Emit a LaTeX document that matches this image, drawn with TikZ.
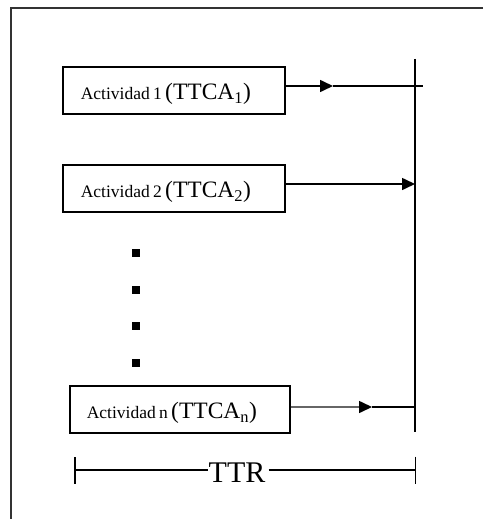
\documentclass[tikz,border=0pt]{standalone}
\usepackage{fontspec}
\setmainfont{Liberation Serif}
\usetikzlibrary{arrows.meta}
\newcommand{\actlabel}[2]{{\fontsize{17.5}{20}\selectfont Actividad #1 }{\fontsize{23.5}{26}\selectfont (TTCA\textsubscript{#2})}}
\begin{document}
\begin{tikzpicture}[x=1pt,y=-1pt,
  frameline/.style={draw=black!80,line width=2pt},
  actbox/.style={draw,line width=1.6pt,rectangle,minimum height=47pt,
    text height=19pt,text depth=0pt,inner xsep=#1,text width=222pt-2*#1,
    align=left,anchor=north west},
  flow/.style={line width=1.6pt},
  tip/.style={-{Triangle[length=13pt,width=12pt]}},
  dot/.style={fill=black,minimum size=7.5pt,inner sep=0pt,rectangle}]
  \useasboundingbox (0,0) rectangle (483,519);

  % page frame (top and left edges)
  \coordinate (ftl) at (11,8);
  \coordinate (ftr) at (483,8);
  \coordinate (fbl) at (11,519);
  \draw[frameline] (ftr) -- (ftl) -- (fbl);

  % activity boxes
  \node[actbox=18pt] (b1) at (62,66) {\actlabel{1}{1}};
  \node[actbox=18pt] (b2) at (62,164) {\actlabel{2}{2}};
  \node[actbox=17pt,text width=220pt-34pt] (bn) at (69,385) {\actlabel{n}{n}};

  % ellipsis between activities
  \node[dot] (d1) at (136,253) {};
  \node[dot] (d2) at (136,290) {};
  \node[dot] (d3) at (136,326) {};
  \node[dot] (d4) at (136,363) {};

  % common completion line
  \coordinate (vt) at (415,59);
  \coordinate (vb) at (415,432);
  \draw[line width=2pt] (vt) -- (vb);

  % arrows into the completion line
  \coordinate (m1) at (333,86);
  \coordinate (e1) at (423,86);
  \draw[flow,tip] (b1.east |- m1) -- (m1);
  \draw[flow] (m1) -- (e1);

  \coordinate (e2) at (415,184);
  \draw[flow,tip] (b2.east |- e2) -- (e2);

  \coordinate (mn) at (372,407);
  \coordinate (en) at (415,407);
  \draw[flow,-,draw=black!60] (bn.east |- mn) -- ([xshift=-10pt]mn);
  \draw[flow,tip] ([xshift=-10pt]mn) -- (mn);
  \draw[flow] (mn) -- (en);

  % total time span
  \coordinate (tl) at (74,470);
  \coordinate (tr) at (416,470);
  \node[anchor=base,inner sep=0pt,font=\fontsize{30}{32}\selectfont] (ttr) at (237,482) {TTR};
  \draw[line width=1.5pt,{Bar[width=27pt]}-] (tl) -- (tl -| ttr.west);
  \draw[line width=1.5pt,-{Bar[width=27pt]}] ([xshift=3pt]tr -| ttr.east) -- (tr);
\end{tikzpicture}
\end{document}
